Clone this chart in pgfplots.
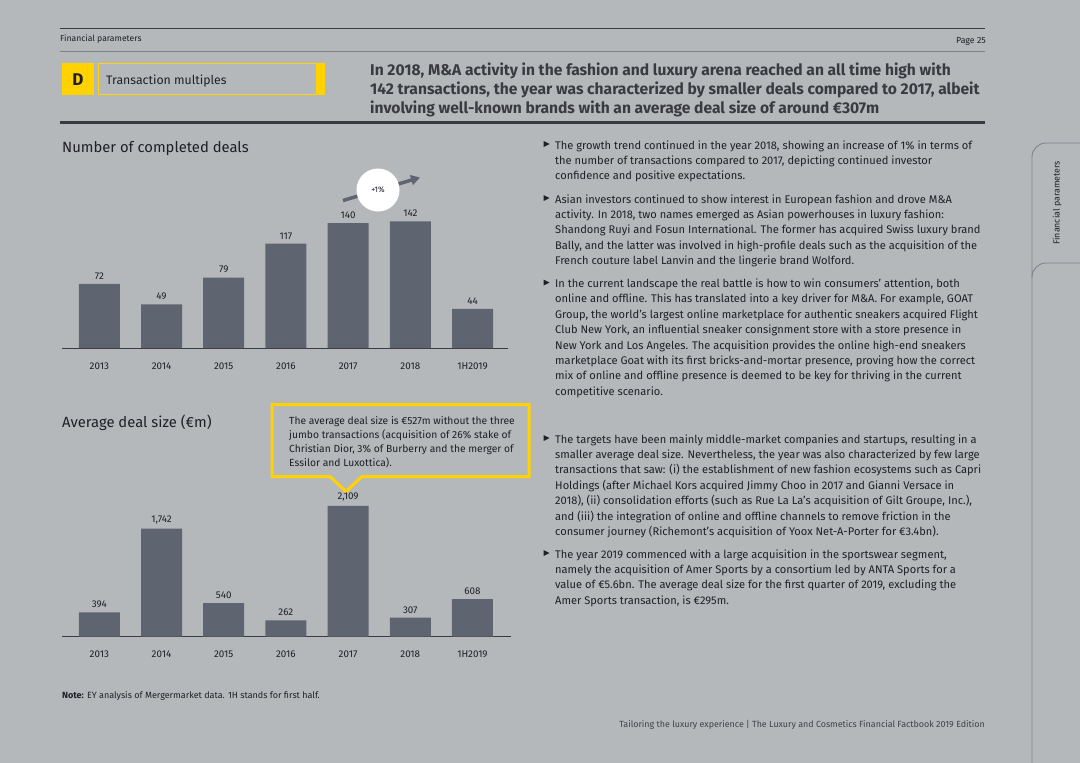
\documentclass[border=0pt]{standalone}
\usepackage{fontspec}
\setmainfont{Fira Sans}
\usepackage{pgfplots}
\pgfplotsset{compat=1.18}
\usetikzlibrary{arrows.meta}
\definecolor{bg}{HTML}{B5B8BB}
\definecolor{barc}{HTML}{5F6570}
\definecolor{eyy}{HTML}{FFD200}
\definecolor{ink}{HTML}{1F1F26}
\definecolor{rulec}{HTML}{3A3B40}
\definecolor{tabline}{HTML}{7E8186}
\newcommand\fs[1]{\fontsize{#1}{#1}\selectfont}
\newcommand\Ln[2]{\node[anchor=base west,inner sep=0pt] at (#1) {#2};}
\newcommand\Bul[1]{\fill[ink] (543.5,#1-8) -- (549.5,#1-5) -- (543.5,#1-2) -- cycle;}
\begin{document}
\begin{tikzpicture}
\begin{scope}[x=1pt,y=-1pt]
\fill[bg] (0,0) rectangle (1080,763);
% header
\draw[rulec, line width=1pt] (60,28) -- (985,28);
\draw[tabline, line width=0.9pt] (60,51) -- (985,51);
\node[anchor=base west,inner sep=0pt,font=\fs{8.6},text=ink] at (60,41) {Financial parameters};
\node[anchor=base east,inner sep=0pt,font=\fs{8.8},text=ink] at (986,43.5) {Page 25};
% D box
\fill[eyy] (62,63) rectangle (94,95);
\node[font=\fs{17}\bfseries,text=ink] at (78,79.5) {D};
\draw[eyy, line width=0.8pt] (98,63.5) rectangle (318,94.5);
\fill[eyy] (316,63) rectangle (325,95);
\node[anchor=base west,inner sep=0pt,font=\fs{12.3},text=ink] at (106,84) {Transaction multiples};
% headline
\begin{scope}[every node/.style={font=\fs{15.6}\bfseries,text=rulec}]
\Ln{370,75}{In 2018, M\&A activity in the fashion and luxury arena reached an all time high with}
\Ln{370,94}{142 transactions, the year was characterized by smaller deals compared to 2017, albeit}
\Ln{370,113}{involving well-known brands with an average deal size of around €307m}
\end{scope}
\draw[rulec, line width=3pt] (60,122.5) -- (985,122.5);
% chart titles
\node[anchor=base west,inner sep=0pt,font=\fs{14.8},text=ink] at (62,152) {Number of completed deals};
\node[anchor=base west,inner sep=0pt,font=\fs{14.8},text=ink] at (62,427.5) {Average deal size (€m)};
% note
\node[anchor=base west,inner sep=0pt,font=\fs{9},text=ink] at (62,698) {\textbf{Note:} EY analysis of Mergermarket data. 1H stands for first half.};
% callout
\draw[eyy, line width=3pt, line join=miter] (272,404.5) -- (529,404.5) -- (529,476.5) -- (362,476.5) -- (346,491.5) -- (330,476.5) -- (272,476.5) -- cycle;
\begin{scope}[every node/.style={font=\fs{10.3},text=ink}]
\Ln{289,424}{The average deal size is €527m without the three}
\Ln{289,438}{jumbo transactions (acquisition of 26\% stake of}
\Ln{289,452.5}{Christian Dior, 3\% of Burberry and the merger of}
\Ln{289,466.5}{Essilor and Luxottica).}
\end{scope}
% right column
\begin{scope}[every node/.style={font=\fs{11.1},text=ink}]
\Bul{149}
\Ln{555,149}{The growth trend continued in the year 2018, showing an increase of 1\% in terms of}
\Ln{555,164.4}{the number of transactions compared to 2017, depicting continued investor}
\Ln{555,179.8}{confidence and positive expectations.}
\Bul{203}
\Ln{555,203}{Asian investors continued to show interest in European fashion and drove M\&A}
\Ln{555,218.4}{activity. In 2018, two names emerged as Asian powerhouses in luxury fashion:}
\Ln{555,233.8}{Shandong Ruyi and Fosun International. The former has acquired Swiss luxury brand}
\Ln{555,249.2}{Bally, and the latter was involved in high-profile deals such as the acquisition of the}
\Ln{555,264.6}{French couture label Lanvin and the lingerie brand Wolford.}
\Bul{287.5}
\Ln{555,287.5}{In the current landscape the real battle is how to win consumers' attention, both}
\Ln{555,302.9}{online and offline. This has translated into a key driver for M\&A. For example, GOAT}
\Ln{555,318.3}{Group, the world's largest online marketplace for authentic sneakers acquired Flight}
\Ln{555,333.7}{Club New York, an influential sneaker consignment store with a store presence in}
\Ln{555,349.1}{New York and Los Angeles. The acquisition provides the online high-end sneakers}
\Ln{555,364.5}{marketplace Goat with its first bricks-and-mortar presence, proving how the correct}
\Ln{555,379.9}{mix of online and offline presence is deemed to be key for thriving in the current}
\Ln{555,395.3}{competitive scenario.}
\Bul{443}
\Ln{555,443}{The targets have been mainly middle-market companies and startups, resulting in a}
\Ln{555,458.4}{smaller average deal size. Nevertheless, the year was also characterized by few large}
\Ln{555,473.8}{transactions that saw: (i) the establishment of new fashion ecosystems such as Capri}
\Ln{555,489.2}{Holdings (after Michael Kors acquired Jimmy Choo in 2017 and Gianni Versace in}
\Ln{555,504.6}{2018), (ii) consolidation efforts (such as Rue La La's acquisition of Gilt Groupe, Inc.),}
\Ln{555,520}{and (iii) the integration of online and offline channels to remove friction in the}
\Ln{555,535.4}{consumer journey (Richemont's acquisition of Yoox Net-A-Porter for €3.4bn).}
\Bul{558}
\Ln{555,558}{The year 2019 commenced with a large acquisition in the sportswear segment,}
\Ln{555,573.4}{namely the acquisition of Amer Sports by a consortium led by ANTA Sports for a}
\Ln{555,588.8}{value of €5.6bn. The average deal size for the first quarter of 2019, excluding the}
\Ln{555,604.2}{Amer Sports transaction, is €295m.}
\end{scope}
% side tab
\draw[tabline, line width=0.9pt] (1080,143) -- (1046,143) to[out=180,in=90] (1032,157) -- (1032,763);
\draw[tabline, line width=0.9pt] (1080,263) -- (1046,263) to[out=180,in=90] (1032,277);
\node[rotate=90,font=\fs{8.8},text=ink] at (1057,203) {Financial parameters};
% footer
\node[anchor=base east,inner sep=0pt,font=\fs{8.9},text=ink!85] at (985,727) {Tailoring the luxury experience | The Luxury and Cosmetics Financial Factbook 2019 Edition};
\end{scope}

% ---- chart 1
\begin{axis}[at={(62pt,-348pt)}, anchor=south west,
  scale only axis, width=446pt, height=160pt,
  xmin=-0.6, xmax=6.57, ymin=0, ymax=179.4,
  hide y axis, axis x line=bottom, x axis line style={-, draw=rulec, line width=1pt},
  xtick={0,...,6}, xticklabels={2013,2014,2015,2016,2017,2018,1H2019},
  major tick length=0pt,
  xticklabel style={font=\fs{9.8}, text=ink, yshift=-11pt},
  /pgf/number format/assume math mode=true,
  nodes near coords, nodes near coords style={font=\fs{9.8}, text=ink, yshift=1pt},
  clip=false]
\addplot[ybar, bar width=41pt, fill=barc, draw=none] coordinates {(0,72) (1,49) (2,79) (3,117) (4,140) (5,142) (6,44)};
\end{axis}

% ---- chart 2
\begin{axis}[at={(62pt,-636.7pt)}, anchor=south west,
  scale only axis, width=449pt, height=150pt,
  xmin=-0.6, xmax=6.62, ymin=0, ymax=2419,
  hide y axis, axis x line=bottom, x axis line style={-, draw=rulec, line width=1pt},
  xtick={0,...,6}, xticklabels={2013,2014,2015,2016,2017,2018,1H2019},
  major tick length=0pt,
  xticklabel style={font=\fs{9.8}, text=ink, yshift=-11pt},
  /pgf/number format/assume math mode=true,
  /pgf/number format/1000 sep={,},
  nodes near coords, nodes near coords style={font=\fs{9.8}, text=ink, yshift=1pt},
  clip=false]
\addplot[ybar, bar width=41pt, fill=barc, draw=none] coordinates {(0,394) (1,1742) (2,540) (3,262) (4,2109) (5,307) (6,608)};
\end{axis}

% +1% annotation
\begin{scope}[x=1pt,y=-1pt]
\draw[barc, line width=3.5pt, -{Triangle[length=9pt,width=10pt]}] (343,200.5) -- (420,177.5);
\fill[white] (378,190) circle (21.5);
\node[font=\fs{8},text=ink] at (378,190) {+1\%};
\end{scope}
\pgfresetboundingbox
\path (0pt,0pt) rectangle (1080pt,-763pt);
\end{tikzpicture}
\end{document}
